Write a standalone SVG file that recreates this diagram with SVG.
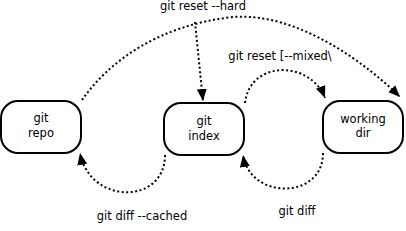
<svg xmlns="http://www.w3.org/2000/svg" width="406" height="231" viewBox="0 0 406 231">
<style>
  .node rect { fill: #ffffff; stroke: #000000; stroke-width: 2; }
  text { font-family: "DejaVu Sans", "Liberation Sans", sans-serif; font-size: 11.5px; fill: #000000; text-anchor: middle; }
  .edge { fill: none; stroke: #000000; stroke-width: 2; stroke-dasharray: 2 2.5; marker-end: url(#arrow); }
</style>
<defs>
  <marker id="arrow" markerUnits="userSpaceOnUse" markerWidth="14" markerHeight="12" refX="12" refY="5" orient="auto">
    <path d="M0,0 L12,5 L0,10 Z" fill="#000000"/>
  </marker>
</defs>
<rect width="406" height="231" fill="#ffffff"/>
<g id="repo" class="node">
  <rect x="1" y="101" width="80" height="52" rx="17" ry="17"/>
  <text x="41" y="122">git</text>
  <text x="41" y="137">repo</text>
</g>
<g id="index" class="node">
  <rect x="164" y="103" width="80" height="52" rx="17" ry="17"/>
  <text x="204" y="125">git</text>
  <text x="204" y="140">index</text>
</g>
<g id="workdir" class="node">
  <rect x="323" y="101" width="80" height="52" rx="17" ry="17"/>
  <text x="363" y="123">working</text>
  <text x="363" y="137">dir</text>
</g>
<g id="connectors">
  <path class="edge" d="M82,100 C110,60 160,25 233,17 C300,12 370,67 400,97"/>
  <path class="edge" d="M195,22 L203,101"/>
  <path class="edge" d="M245,103 C250,60 310,60 325,98"/>
  <path class="edge" d="M165,155 C165,205 90,205 80,153"/>
  <path class="edge" d="M323,153 C323,200 250,200 243,155"/>
  <text x="203" y="10">git reset --hard</text>
  <text x="280" y="60">git reset [--mixed\</text>
  <text x="142" y="220">git diff --cached</text>
  <text x="297" y="215">git diff</text>
</g>
</svg>
